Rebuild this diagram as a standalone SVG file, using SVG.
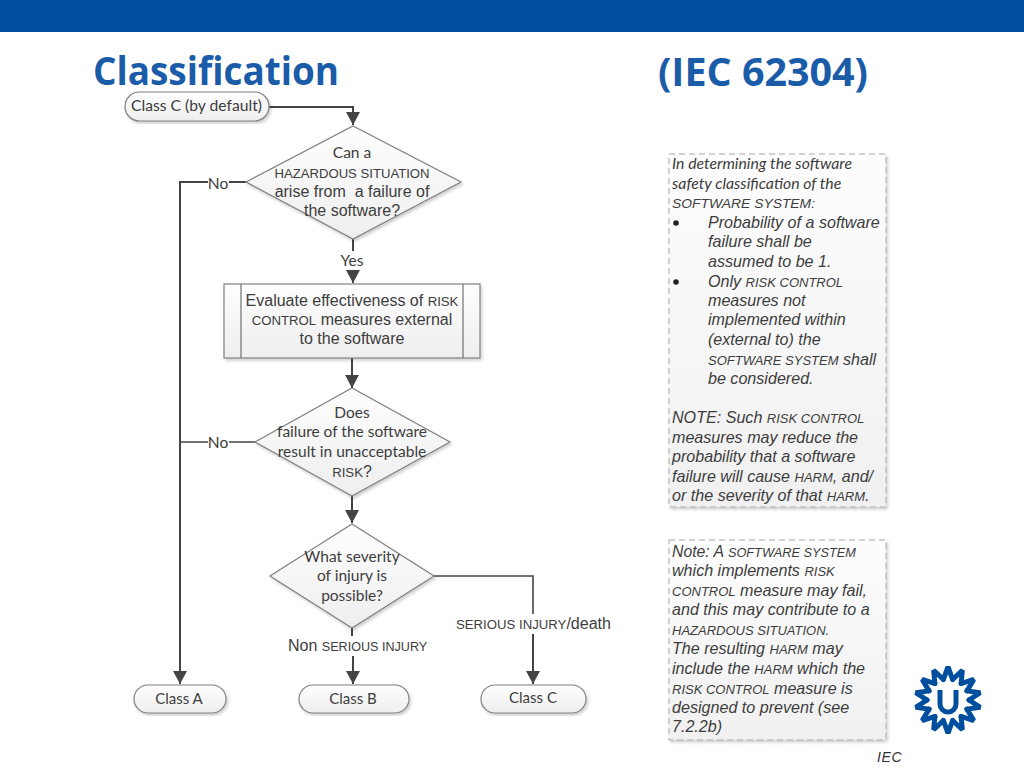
<svg xmlns="http://www.w3.org/2000/svg" width="1024" height="768" viewBox="0 0 1024 768">
<style>
text{font-family:"Liberation Sans",Arial,sans-serif;fill:#3d3d3d;font-size:16px}
.c{text-anchor:middle}
.sc{font-size:13.2px}
.k{font-family:Lato,"Liberation Sans",sans-serif;font-size:15.5px}
.cl{font-size:15px}
.t{font-family:"Open Sans","Noto Sans",sans-serif;font-weight:700;font-size:40px;fill:#1b5ca8}
.n{font-style:italic;font-size:16.1px}
.n .sc{font-size:13px}
.ni{font-family:Lato,"Liberation Sans",sans-serif;font-style:italic;font-size:15.8px}
.box{fill:url(#g2);stroke:#a8a8a8;stroke-width:1;stroke-dasharray:6 4;filter:url(#s)}
.sh{fill:url(#g);stroke:#808080;stroke-width:1.2;filter:url(#s)}
.l{fill:none;stroke:#444;stroke-width:2}
.tooth{fill:none;stroke:#004f9f;stroke-width:5;stroke-linejoin:bevel;stroke-linecap:round}
</style>
<defs>
<linearGradient id="g" x1="0" y1="0" x2="0" y2="1"><stop offset="0" stop-color="#fefefe"/><stop offset="1" stop-color="#eeeeee"/></linearGradient>
<linearGradient id="g2" x1="0" y1="0" x2="0" y2="1"><stop offset="0" stop-color="#fdfdfd"/><stop offset="1" stop-color="#f0f0f0"/></linearGradient>
<filter id="s" x="-5%" y="-5%" width="110%" height="115%"><feDropShadow dx="1.5" dy="2" stdDeviation="1.5" flood-color="#000" flood-opacity=".2"/></filter>
<marker id="a" markerUnits="userSpaceOnUse" markerWidth="14" markerHeight="14" refX="13" refY="7" orient="auto"><path d="M0 0L13 7L0 14Z" fill="#444"/></marker>
<polyline id="tooth" class="tooth" points="943.3,679.500 948,667 952.700,679.500"/>
</defs>
<rect width="1024" height="32" fill="#004f9f"/>
<text class="t" x="93" y="85" textLength="246" lengthAdjust="spacingAndGlyphs">Classification</text>
<text class="t" x="658" y="86" textLength="210" lengthAdjust="spacingAndGlyphs">(IEC 62304)</text>

<g id="connectors">
<path class="l" d="M269 107H353V125" marker-end="url(#a)"/>
<path class="l" d="M246 182H229M208 182H180V684" marker-end="url(#a)"/>
<path class="l" d="M180 442H208M229 442H255" style="stroke-width:1.6"/>
<path class="l" d="M353 239V251M353 272V283" marker-end="url(#a)"/>
<path class="l" d="M352 358V388" marker-end="url(#a)"/>
<path class="l" d="M352 496V523" marker-end="url(#a)"/>
<path class="l" d="M434 576H533V614" style="stroke-width:1.6"/>
<path class="l" d="M533 634V684" marker-end="url(#a)"/>
<path class="l" d="M352 628V636M353 656V684" marker-end="url(#a)"/>
</g>

<g id="start"><rect class="sh" x="125" y="92" width="144" height="29" rx="14.500"/>
<text x="131" y="111" class="k" textLength="131" lengthAdjust="spacingAndGlyphs">Class C (by default)</text></g>

<g id="d1"><polygon class="sh" points="353,126 461,182 353,239 246,182"/>
<text class="c k" x="352" y="158">Can a</text>
<text class="c sc" x="352" y="178" textLength="155" lengthAdjust="spacingAndGlyphs">HAZARDOUS SITUATION</text>
<text class="c" x="352" y="197">arise from&#160; a failure of</text>
<text class="c" x="352" y="216">the software?</text></g>

<g id="lbl-no1"><text class="c k" x="218" y="189">No</text></g>
<g id="lbl-yes"><text class="c k" x="352" y="266">Yes</text></g>

<g id="process"><rect class="sh" x="224" y="284" width="256" height="74"/>
<path d="M241 284V358M463 284V358" stroke="#707070" stroke-width="1.2"/>
<text class="c" x="352" y="306">Evaluate effectiveness of <tspan class="sc">RISK</tspan></text>
<text class="c" x="352" y="325"><tspan class="sc">CONTROL</tspan> measures external</text>
<text class="c" x="352" y="344">to the software</text></g>

<g id="d2"><polygon class="sh" points="352,388 450,442 352,496 255,442"/>
<text class="c k" x="352" y="418">Does</text>
<text class="c k" x="352" y="437">failure of the software</text>
<text class="c k" x="352" y="457">result in unacceptable</text>
<text class="c" x="352" y="477"><tspan class="sc">RISK</tspan>?</text></g>

<g id="lbl-no2"><text class="c k" x="218" y="448">No</text></g>

<g id="d3"><polygon class="sh" points="352,524 434,576 352,628 270,576"/>
<text class="c k" x="352" y="562">What severity</text>
<text class="c k" x="352" y="581">of injury is</text>
<text class="c k" x="352" y="601">possible?</text></g>

<g id="lbl-serious"><text x="456" y="629"><tspan class="sc">SERIOUS INJURY</tspan>/death</text></g>
<g id="lbl-non"><text x="288" y="651">Non <tspan class="sc" style="font-size:12.6px">SERIOUS INJURY</tspan></text></g>

<g id="classA"><rect class="sh" x="134" y="685" width="92" height="28" rx="14"/><text class="k c cl" x="179" y="704">Class A</text></g>
<g id="classB"><rect class="sh" x="299" y="685" width="110" height="28" rx="14"/><text class="k c cl" x="353" y="704">Class B</text></g>
<g id="classC"><rect class="sh" x="481" y="685" width="105" height="28" rx="14"/><text class="k c cl" x="533" y="703">Class C</text></g>

<g id="note1"><rect class="box" x="669" y="154" width="217" height="353"/>
<text class="ni" x="672" y="169">In determining the software</text>
<text class="ni" x="672" y="189">safety classification of the</text>
<text class="n" x="672" y="208" textLength="143" lengthAdjust="spacingAndGlyphs"><tspan class="sc">SOFTWARE SYSTEM:</tspan></text>
<circle cx="676" cy="223" r="2.800" fill="#222"/>
<text class="n" x="708" y="228">Probability of a software</text>
<text class="n" x="708" y="247">failure shall be</text>
<text class="n" x="708" y="267">assumed to be 1.</text>
<circle cx="676" cy="282" r="2.800" fill="#222"/>
<text class="n" x="708" y="287">Only <tspan class="sc">RISK CONTROL</tspan></text>
<text class="n" x="708" y="306">measures not</text>
<text class="n" x="708" y="325">implemented within</text>
<text class="n" x="708" y="345">(external to) the</text>
<text class="n" x="708" y="365"><tspan class="sc">SOFTWARE SYSTEM</tspan> shall</text>
<text class="n" x="708" y="384">be considered.</text>
<text class="n" x="672" y="423">NOTE: Such <tspan class="sc">RISK CONTROL</tspan></text>
<text class="n" x="672" y="443">measures may reduce the</text>
<text class="n" x="672" y="462">probability that a software</text>
<text class="n" x="672" y="482">failure will cause <tspan class="sc">HARM</tspan>, and/</text>
<text class="n" x="672" y="501">or the severity of that <tspan class="sc">HARM</tspan>.</text></g>

<g id="note2"><rect class="box" x="669" y="540" width="217" height="200"/>
<text class="n" x="672" y="557" textLength="184" lengthAdjust="spacingAndGlyphs">Note: A <tspan class="sc">SOFTWARE SYSTEM</tspan></text>
<text class="n" x="672" y="576">which implements <tspan class="sc">RISK</tspan></text>
<text class="n" x="672" y="596"><tspan class="sc">CONTROL</tspan> measure may fail,</text>
<text class="n" x="672" y="615">and this may contribute to a</text>
<text class="n" x="672" y="635"><tspan class="sc">HAZARDOUS SITUATION.</tspan></text>
<text class="n" x="672" y="654">The resulting <tspan class="sc">HARM</tspan> may</text>
<text class="n" x="672" y="674">include the <tspan class="sc">HARM</tspan> which the</text>
<text class="n" x="672" y="694"><tspan class="sc">RISK CONTROL</tspan> measure is</text>
<text class="n" x="672" y="713">designed to prevent (see</text>
<text class="n" x="672" y="732">7.2.2b)</text></g>

<g id="logo">
<use href="#tooth"/>
<use href="#tooth" transform="rotate(25.71 948 700)"/>
<use href="#tooth" transform="rotate(51.43 948 700)"/>
<use href="#tooth" transform="rotate(77.14 948 700)"/>
<use href="#tooth" transform="rotate(102.86 948 700)"/>
<use href="#tooth" transform="rotate(128.57 948 700)"/>
<use href="#tooth" transform="rotate(154.29 948 700)"/>
<use href="#tooth" transform="rotate(180 948 700)"/>
<use href="#tooth" transform="rotate(205.71 948 700)"/>
<use href="#tooth" transform="rotate(231.43 948 700)"/>
<use href="#tooth" transform="rotate(257.14 948 700)"/>
<use href="#tooth" transform="rotate(282.86 948 700)"/>
<use href="#tooth" transform="rotate(308.57 948 700)"/>
<use href="#tooth" transform="rotate(334.29 948 700)"/>
<path d="M940 690V704A8 8 0 0 0 956 704V690" fill="none" stroke="#004f9f" stroke-width="5"/>
</g>
<text x="877" y="762" style="font-style:italic;font-size:14px;fill:#333;letter-spacing:.6px">IEC</text>
</svg>
